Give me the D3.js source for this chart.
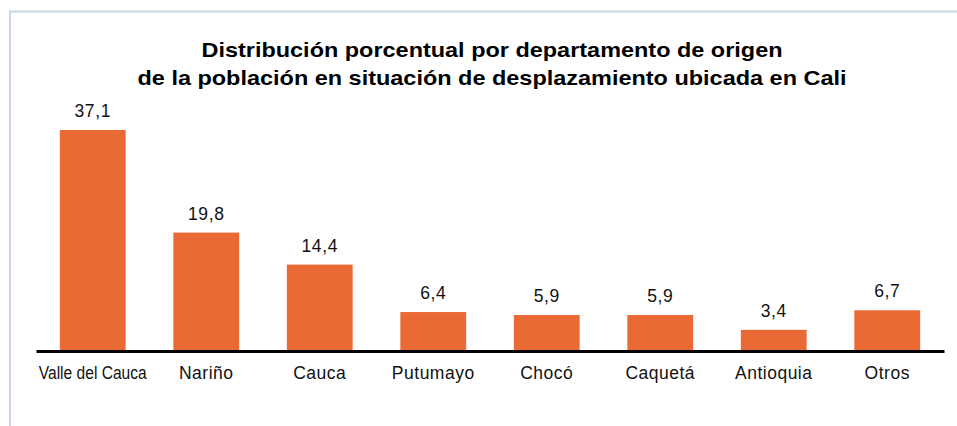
<!DOCTYPE html>
<html>
<head>
<meta charset="utf-8">
<script src="https://cdn.jsdelivr.net/npm/d3@7"></script>
<style>
  body { margin: 0; background: #fff; }
  svg { display: block; }
</style>
</head>
<body>
<svg id="chart" width="957" height="426"></svg>
<script>
// ---- Datos
const departamentos = ['Valle del Cauca', 'Nariño', 'Cauca', 'Putumayo', 'Chocó', 'Caquetá', 'Antioquia', 'Otros'];
const porcentajes = [37.1, 19.8, 14.4, 6.4, 5.9, 5.9, 3.4, 6.7];
const titulo = [
    'Distribución porcentual por departamento de origen',
    'de la población en situación de desplazamiento ubicada en Cali'
];

const data = departamentos.map((d, i) => ({ dep: d, valor: porcentajes[i] }));

const svg = d3.select('#chart');
const fmt = v => d3.format('.1f')(v).replace('.', ',');

// ---- Marco
svg.append('path')
    .attr('d', 'M10,426 V11.5 H957')
    .style('fill', 'none')
    .style('stroke', '#c9d5e8')
    .style('stroke-width', 2);

// ---- Título
svg.selectAll('text.titulo')
    .data(titulo)
    .join('text')
    .attr('class', 'titulo')
    .attr('x', 492)
    .attr('y', (d, i) => 56.5 + i * 28.5)
    .attr('text-anchor', 'middle')
    .attr('textLength', (d, i) => i === 0 ? 581 : 709)
    .attr('lengthAdjust', 'spacingAndGlyphs')
    .style('font-family', '"Liberation Sans", Arial, sans-serif')
    .style('font-weight', 'bold')
    .style('font-size', '21px')
    .style('fill', '#000')
    .text(d => d);

// ---- Escalas
const mapX = d3.scaleBand()
    .domain(departamentos)
    .range([36, 944])
    .paddingInner(0.42)
    .paddingOuter(0.21);

const mapY = d3.scaleLinear()
    .domain([0, 37.1])
    .range([350, 130]);

// ---- Barras
svg.selectAll('rect.barra')
    .data(data)
    .join('rect')
    .attr('class', 'barra')
    .attr('x', d => mapX(d.dep))
    .attr('y', d => mapY(d.valor))
    .attr('width', mapX.bandwidth())
    .attr('height', d => mapY(0) - mapY(d.valor))
    .style('fill', '#ea6a35');

// ---- Valores
svg.selectAll('text.valor')
    .data(data)
    .join('text')
    .attr('class', 'valor')
    .attr('x', d => mapX(d.dep) + mapX.bandwidth() / 2)
    .attr('y', d => mapY(d.valor) - 13)
    .attr('text-anchor', 'middle')
    .style('font-family', '"Liberation Sans", Arial, sans-serif')
    .style('font-size', '17.5px')
    .style('letter-spacing', '0.6px')
    .style('fill', '#111')
    .text(d => fmt(d.valor));

// ---- Eje X
const xAxis = d3.axisBottom(mapX).tickSize(0).tickPadding(16);
const gX = svg.append('g')
    .attr('transform', 'translate(0, 351)')
    .call(xAxis);

gX.select('.domain')
    .style('stroke', '#000')
    .style('stroke-width', 3);

gX.selectAll('.tick text')
    .style('font-family', '"Liberation Sans", Arial, sans-serif')
    .style('font-size', '17.5px')
    .style('letter-spacing', '0.5px')
    .style('fill', '#111')
    .each(function (d) {
        if (d === 'Valle del Cauca') {
            d3.select(this)
                .style('letter-spacing', '0px')
                .attr('textLength', 108)
                .attr('lengthAdjust', 'spacingAndGlyphs');
        }
    });
</script>
</body>
</html>
